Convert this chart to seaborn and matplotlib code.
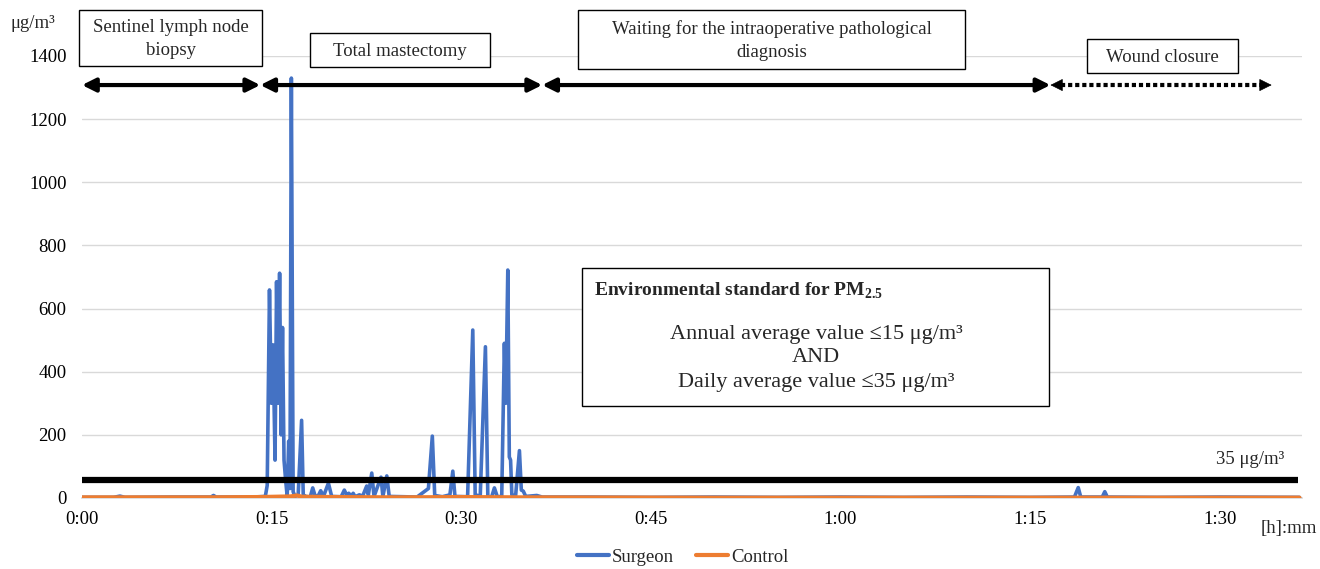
import matplotlib
matplotlib.use("Agg")
import matplotlib.pyplot as plt
import seaborn as sns
import pandas as pd
from matplotlib.patches import Rectangle
from matplotlib.lines import Line2D

# surgeon PM2.5 readings (minutes from start, ug/m3)
surgeon_min = [0.0, 2.5, 3.0, 3.4, 7.0, 10.2, 10.4, 10.6, 13.5, 14.5,
               14.65, 14.83, 14.98, 15.11, 15.27, 15.39, 15.51, 15.63, 15.75, 15.86,
               15.98, 16.1, 16.23, 16.35, 16.45, 16.56, 16.7, 16.85, 17.1, 17.37,
               17.5, 17.7, 18.05, 18.25, 18.45, 18.7, 18.88, 19.1, 19.49, 19.75,
               20.5, 20.75, 20.95, 21.1, 21.3, 21.45, 21.6, 21.94, 22.2, 22.52,
               22.65, 22.92, 23.1, 23.65, 23.8, 24.11, 24.3, 25.5, 26.5, 27.4,
               27.71, 27.9, 28.5, 29.1, 29.33, 29.5, 30.5, 30.91, 31.1, 31.5,
               31.91, 32.1, 32.4, 32.62, 32.85, 33.2, 33.41, 33.52, 33.68, 33.8,
               33.9, 34.0, 34.3, 34.6, 34.75, 34.9, 35.1, 35.97, 36.4, 40.0,
               45.0, 50.0, 55.0, 60.0, 65.0, 70.0, 75.0, 78.5, 78.8, 79.0,
               80.7, 80.9, 81.1, 85.0, 90.0, 96.3]
surgeon_val = [2, 2, 6, 2, 3, 3, 8, 3, 3, 5,
               40, 659, 300, 485, 120, 685, 300, 712, 200, 540,
               120, 60, 5, 180, 30, 1330, 20, 5, 10, 246,
               10, 5, 3, 32, 5, 8, 23, 5, 47, 5,
               4, 25, 8, 15, 6, 15, 4, 10, 6, 38,
               10, 79, 5, 66, 5, 70, 5, 4, 3, 30,
               196, 8, 4, 10, 85, 5, 4, 532, 10, 6,
               479, 5, 3, 32, 4, 5, 490, 300, 722, 130,
               120, 10, 8, 150, 25, 22, 5, 8, 3, 3,
               2, 3, 2, 3, 2, 3, 2, 3, 33, 3,
               3, 20, 3, 2, 3, 2]

# control readings
control_min = [0.0, 10.0, 14.0, 16.5, 17.0, 17.4, 20.0, 25.0, 30.0, 35.0, 50.0, 70.0, 96.3]
control_val = [2, 2, 3, 5, 8, 4, 3, 2, 3, 2, 1, 1, 1]

x_ticks = [0, 15, 30, 45, 60, 75, 90]
x_labels = ["0:00", "0:15", "0:30", "0:45", "1:00", "1:15", "1:30"]
y_ticks = [0, 200, 400, 600, 800, 1000, 1200, 1400]

# surgical phases (start, end in minutes)
phase_bounds = [(0.0, 14.1), (14.1, 36.4), (36.4, 76.6), (76.6, 94.1)]
phase_names = ["Sentinel lymph node\nbiopsy", "Total mastectomy",
               "Waiting for the intraoperative pathological\ndiagnosis", "Wound closure"]
limit_level = 57

sns.set_theme(style="white")
plt.rcParams["font.family"] = ["Liberation Serif", "DejaVu Serif"]
plt.rcParams["mathtext.fontset"] = "custom"
plt.rcParams["mathtext.rm"] = "Liberation Serif"
plt.rcParams["mathtext.bf"] = "Liberation Serif:bold"

W, H = 1320, 569
fig = plt.figure(figsize=(W / 100, H / 100), dpi=100)
ax = fig.add_axes([82 / W, 1 - 498 / H, (1302 - 82) / W, (498 - 56) / H])

blue = "#4472C4"
orange = "#ED7D31"

df_s = pd.DataFrame({"t": surgeon_min, "v": surgeon_val})
df_c = pd.DataFrame({"t": control_min, "v": control_val})
sns.lineplot(data=df_s, x="t", y="v", ax=ax, color=blue, lw=2.6, zorder=3)
sns.lineplot(data=df_c, x="t", y="v", ax=ax, color=orange, lw=3, zorder=4)

ax.set_xlim(0, 96.5)
ax.set_ylim(0, 1400)
ax.set_xticks(x_ticks)
ax.set_xticklabels(x_labels)
ax.set_yticks(y_ticks)
ax.tick_params(axis="both", labelsize=13.5, length=0, colors="black")
ax.tick_params(axis="x", pad=9)
ax.tick_params(axis="y", pad=11)
ax.grid(axis="y", color="#D9D9D9", lw=1)
ax.set_xlabel("")
ax.set_ylabel("")
for s in ["top", "right", "left"]:
    ax.spines[s].set_visible(False)
ax.spines["bottom"].set_color("#D9D9D9")

# 35 ug/m3 line
ax.plot([0, 96.2], [limit_level, limit_level], color="black", lw=4.5, zorder=5, solid_capstyle="butt")
ax.text(92.4, 122, "35 μg/m³", ha="center", va="center", fontsize=13.5)

# phase arrows
arrow_y = 1308
for i, (a, b) in enumerate(phase_bounds):
    if i < 3:
        ax.annotate("", xy=(b, arrow_y), xytext=(a, arrow_y),
                    arrowprops=dict(arrowstyle="<|-|>", color="black", lw=3,
                                    mutation_scale=20, shrinkA=0, shrinkB=0),
                    annotation_clip=False)
    else:
        ax.plot([a + 0.8, b - 0.8], [arrow_y, arrow_y], color="black", lw=3,
                ls=(0, (1, 0.7)), solid_capstyle="butt", dash_capstyle="butt")
        ax.annotate("", xy=(a, arrow_y), xytext=(a + 0.9, arrow_y),
                    arrowprops=dict(arrowstyle="-|>", color="black", lw=0.5,
                                    mutation_scale=20, shrinkA=0, shrinkB=0))
        ax.annotate("", xy=(b, arrow_y), xytext=(b - 0.9, arrow_y),
                    arrowprops=dict(arrowstyle="-|>", color="black", lw=0.5,
                                    mutation_scale=20, shrinkA=0, shrinkB=0))


def box(x0, y0, x1, y1):
    fig.add_artist(Rectangle((x0 / W, 1 - y1 / H), (x1 - x0) / W, (y1 - y0) / H,
                             transform=fig.transFigure, facecolor="white",
                             edgecolor="black", lw=1, zorder=10))


box_px = [(79, 10, 262, 66), (310, 33, 490, 67), (578, 10, 965, 69), (1087, 39, 1238, 73)]
for (x0, y0, x1, y1), name in zip(box_px, phase_names):
    box(x0, y0, x1, y1)
    fig.text((x0 + x1) / 2 / W, 1 - ((y0 + y1) / 2 + 1) / H, name, ha="center", va="center",
             fontsize=13.5, linespacing=1.45, zorder=11)

# environmental standard box
box(582, 268, 1049, 406)
fig.text(594 / W, 1 - 291 / H, r"Environmental standard for PM$_{\mathbf{2.5}}$",
         ha="left", va="center", fontsize=14, fontweight="bold", zorder=11)
for yy, line in [(334, "Annual average value ≤15 μg/m³"), (358, "AND"),
                 (382, "Daily average value ≤35 μg/m³")]:
    fig.text(816 / W, 1 - yy / H, line, ha="center", va="center", fontsize=16, zorder=11)

fig.text(33 / W, 1 - 24 / H, "μg/m³", ha="center", va="center", fontsize=13.5)
fig.text(1289 / W, 1 - 528 / H, "[h]:mm", ha="center", va="center", fontsize=13.5)

handles = [Line2D([0], [0], color=blue, lw=3), Line2D([0], [0], color=orange, lw=3)]
fig.legend(handles, ["Surgeon", "Control"], loc="center", bbox_to_anchor=(0.517, 1 - 557 / H),
           ncol=2, frameon=False, fontsize=13.5, handlelength=1.7, handletextpad=0.15,
           columnspacing=1.2)

fig.savefig("out.png", dpi=100)
